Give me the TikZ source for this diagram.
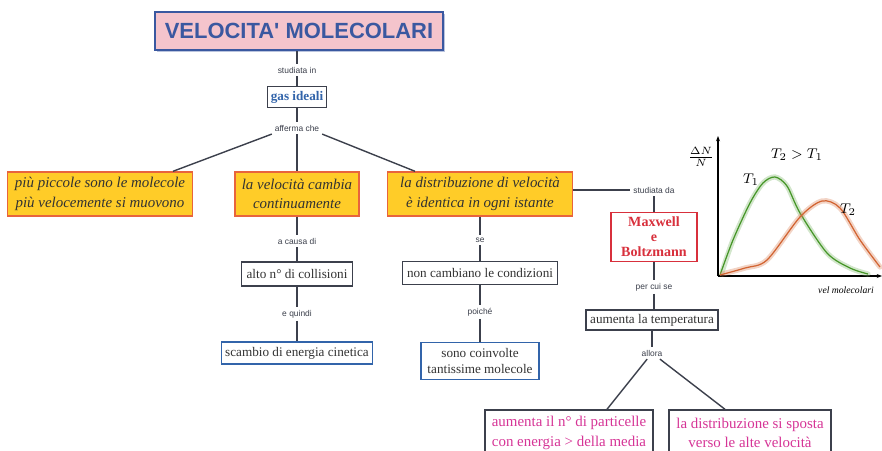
\documentclass[tikz,border=0pt]{standalone}
\usepackage{fontspec}
\setmainfont{Liberation Serif}
\setsansfont{Liberation Sans}
\usetikzlibrary{arrows.meta, positioning, shadows, calc}
\definecolor{titlepink}{RGB}{244,196,204}
\definecolor{titleblue}{RGB}{58,88,160}
\definecolor{boxyellow}{RGB}{255,204,40}
\definecolor{boxorange}{RGB}{232,100,60}
\definecolor{linkgray}{RGB}{60,64,76}
\definecolor{textgray}{RGB}{50,50,50}
\definecolor{conceptblue}{RGB}{50,100,170}
\definecolor{conceptred}{RGB}{216,48,60}
\definecolor{conceptmagenta}{RGB}{214,52,150}
\definecolor{curvegreen}{RGB}{70,150,40}
\definecolor{curveorange}{RGB}{210,100,50}

\begin{document}
\begin{tikzpicture}[x=0.02cm, y=-0.02cm,
    concept/.style={rectangle, draw=linkgray, line width=0.8pt, fill=white, align=center, text=textgray, font=\fontsize{7.5}{9}\selectfont, inner sep=2pt},
    idea/.style={concept, draw=boxorange, fill=boxyellow, font=\fontsize{8.5}{11}\selectfont\itshape},
    result/.style={concept, text=conceptmagenta, font=\fontsize{8.5}{11}\selectfont},
    linklabel/.style={fill=white, font=\sffamily\fontsize{4.8}{5}\selectfont, text=linkgray, inner sep=1.5pt},
    link/.style={draw=linkgray, line width=0.8pt},
    halo/.style={line width=3pt, opacity=0.35, line cap=round}
]
\useasboundingbox (0,0) rectangle (882,450);
% concepts
\node[concept, draw=titleblue, line width=1.5pt, fill=titlepink, text=titleblue, font=\sffamily\bfseries\fontsize{12.5}{14}\selectfont, minimum width=5.76cm, minimum height=0.76cm, drop shadow={shadow xshift=1.2pt, shadow yshift=-1.2pt, fill=titleblue!70}] (title) at (299,31) {VELOCITA\textquotesingle{} MOLECOLARI};
\node[concept, text=conceptblue, font=\bfseries\fontsize{7.5}{9}\selectfont, minimum width=1.18cm, minimum height=0.42cm] (gas) at (297,97) {gas ideali};
\node[idea, minimum width=3.7cm, minimum height=0.88cm] (piu) at (100,194) {più piccole sono le molecole\\più velocemente si muovono};
\node[idea, minimum width=2.48cm, minimum height=0.88cm] (cambia) at (297,194) {la velocità cambia\\continuamente};
\node[idea, minimum width=3.7cm, minimum height=0.88cm] (distrib) at (480,194) {la distribuzione di velocità\\è identica in ogni istante};
\node[concept, draw=conceptred, text=conceptred, font=\bfseries\fontsize{8}{8.5}\selectfont, minimum width=1.72cm, minimum height=0.98cm] (maxwell) at (654,237) {Maxwell\\e\\Boltzmann};
\node[concept, minimum width=2.22cm, minimum height=0.48cm] (collisioni) at (297,274) {alto n° di collisioni};
\node[concept, draw=conceptblue, minimum width=3.02cm, minimum height=0.44cm] (scambio) at (297,353) {scambio di energia cinetica};
\node[concept, minimum width=3.1cm, minimum height=0.46cm] (condizioni) at (480,273) {non cambiano le condizioni};
\node[concept, draw=conceptblue, minimum width=2.36cm, minimum height=0.74cm] (coinvolte) at (480,361) {sono coinvolte\\tantissime molecole};
\node[concept, minimum width=2.64cm, minimum height=0.4cm] (temperatura) at (652,320) {aumenta la temperatura};
\node[result, minimum width=3.36cm, minimum height=0.92cm] (particelle) at (569,433) {aumenta il n° di particelle\\con energia > della media};
\node[result, minimum width=3.24cm, minimum height=0.92cm] (sposta) at (750,433) {la distribuzione si sposta\\verso le alte velocità};
% link labels
\node[linklabel] (studin) at (297,70) {studiata in};
\node[linklabel] (afferma) at (297,128) {afferma che};
\node[linklabel] (studda) at (654,190) {studiata da};
\node[linklabel] (causa) at (297,241) {a causa di};
\node[linklabel] (quindi) at (297,314) {e quindi};
\node[linklabel] (se) at (480,240) {se};
\node[linklabel] (poiche) at (480,312) {poiché};
\node[linklabel] (percui) at (654,287) {per cui se};
\node[linklabel] (allora) at (652,353) {allora};
% connectors
\draw[link] (studin |- title.south) -- (studin);
\draw[link] (studin) -- (gas);
\draw[link] (gas) -- (afferma);
\draw[link] (afferma.south west) -- ([xshift=1.46cm]piu.north);
\draw[link] (afferma) -- (cambia);
\draw[link] (afferma.south east) -- ([xshift=-1.3cm]distrib.north);
\draw[link] (studda -| distrib.east) -- (studda);
\draw[link] (studda) -- (maxwell);
\draw[link] (maxwell) -- (percui);
\draw[link] (percui) -- (percui |- temperatura.north);
\draw[link] (temperatura) -- (allora);
\draw[link] (allora) -- ([xshift=0.76cm]particelle.north);
\draw[link] (allora) -- ([xshift=-0.5cm]sposta.north);
\draw[link] (cambia) -- (causa);
\draw[link] (causa) -- (collisioni);
\draw[link] (collisioni) -- (quindi);
\draw[link] (quindi) -- (scambio);
\draw[link] (distrib) -- (se);
\draw[link] (se) -- (condizioni);
\draw[link] (condizioni) -- (poiche);
\draw[link] (poiche) -- (coinvolte);
% distribution sketch
\draw[line width=0.6pt, -{Stealth[length=3pt]}] (718,276) -- (718,136);
\draw[line width=0.6pt, -{Stealth[length=3pt]}] (718,276) -- (882,276);
\draw[halo, curvegreen!70] plot[smooth] coordinates {(722,272) (733,240) (750,203) (763,183) (775,177) (787,186) (800,213) (827,253) (850,268) (868,274)};
\draw[curvegreen, line width=0.7pt] plot[smooth] coordinates {(720,275) (733,240) (750,203) (763,183) (775,177) (787,186) (800,213) (827,253) (850,268) (868,274)};
\draw[halo, curveorange!80] plot[smooth] coordinates {(722,274) (745,268) (767,260) (800,217) (822,201) (840,208) (860,240) (880,267)};
\draw[curveorange, line width=0.7pt] plot[smooth] coordinates {(720,275) (745,268) (767,260) (800,217) (822,201) (840,208) (860,240) (880,267)};
\node[font=\fontsize{8}{9}\selectfont] (dn) at (701,157) {$\frac{\Delta N}{N}$};
\node[font=\fontsize{8}{9}\selectfont] (tt) at (797,155) {$T_2 > T_1$};
\node[font=\fontsize{8}{9}\selectfont] (t1) at (751,180) {$T_1$};
\node[font=\fontsize{8}{9}\selectfont] (t2) at (848,210) {$T_2$};
\node[font=\itshape\fontsize{5.5}{6}\selectfont] (vel) at (846,290) {vel molecolari};
\end{tikzpicture}
\end{document}
